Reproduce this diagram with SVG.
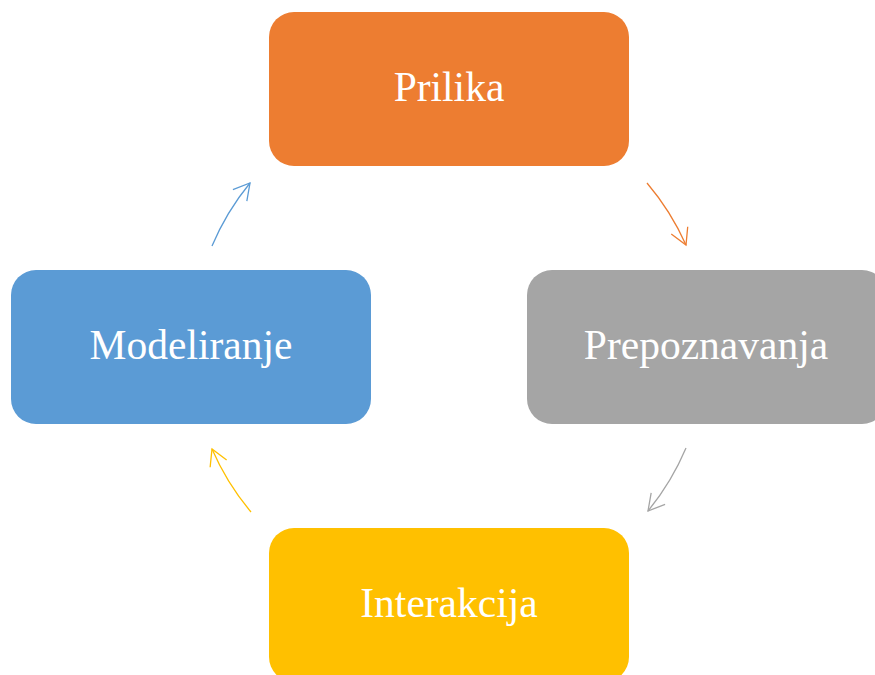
<svg xmlns="http://www.w3.org/2000/svg" width="875" height="675" viewBox="0 0 875 675">
<style>
.box{stroke:none}
.lbl{font-family:"Liberation Serif","DejaVu Serif",serif;font-size:41.5px;fill:#ffffff;text-anchor:middle}
.arc{fill:none;stroke-width:1.3}
</style>
<defs>
<marker id="mo" markerUnits="userSpaceOnUse" markerWidth="40" markerHeight="40" refX="0" refY="0" viewBox="-20 -20 40 40" orient="auto" overflow="visible"><path d="M-16,-9 L0,0 L-16,9" fill="none" stroke="#ED7D31" stroke-width="1.3"/></marker>
<marker id="mg" markerUnits="userSpaceOnUse" markerWidth="40" markerHeight="40" refX="0" refY="0" viewBox="-20 -20 40 40" orient="auto" overflow="visible"><path d="M-16,-9 L0,0 L-16,9" fill="none" stroke="#A5A5A5" stroke-width="1.3"/></marker>
<marker id="my" markerUnits="userSpaceOnUse" markerWidth="40" markerHeight="40" refX="0" refY="0" viewBox="-20 -20 40 40" orient="auto" overflow="visible"><path d="M-16,-9 L0,0 L-16,9" fill="none" stroke="#FFC000" stroke-width="1.3"/></marker>
<marker id="mb" markerUnits="userSpaceOnUse" markerWidth="40" markerHeight="40" refX="0" refY="0" viewBox="-20 -20 40 40" orient="auto" overflow="visible"><path d="M-16,-9 L0,0 L-16,9" fill="none" stroke="#5B9BD5" stroke-width="1.3"/></marker>
</defs>
<rect width="875" height="675" fill="#ffffff"/>
<g id="connectors">
<path class="arc" stroke="#ED7D31" d="M647,183 A258,258 0 0 1 686,245" marker-end="url(#mo)"/>
<path class="arc" stroke="#A5A5A5" d="M686,448 A258,258 0 0 1 648,511" marker-end="url(#mg)"/>
<path class="arc" stroke="#FFC000" d="M251,512 A258,258 0 0 1 212,449" marker-end="url(#my)"/>
<path class="arc" stroke="#5B9BD5" d="M212,246 A258,258 0 0 1 250,183" marker-end="url(#mb)"/>
</g>
<g id="prilika">
<rect class="box" x="269" y="12" width="360" height="154" rx="25" fill="#ED7D31"/>
<text class="lbl" x="449" y="101">Prilika</text>
</g>
<g id="prepoznavanja">
<rect class="box" x="527" y="270" width="360" height="154" rx="25" fill="#A5A5A5"/>
<text class="lbl" x="706" y="359">Prepoznavanja</text>
</g>
<g id="interakcija">
<rect class="box" x="269" y="528" width="360" height="154" rx="25" fill="#FFC000"/>
<text class="lbl" x="449" y="617">Interakcija</text>
</g>
<g id="modeliranje">
<rect class="box" x="11" y="270" width="360" height="154" rx="25" fill="#5B9BD5"/>
<text class="lbl" x="191" y="359">Modeliranje</text>
</g>
</svg>
